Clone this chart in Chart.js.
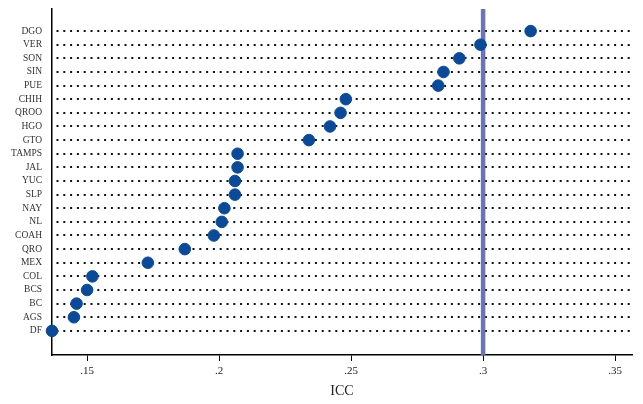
<!DOCTYPE html>
<html>
<head>
<meta charset="utf-8">
<script src="https://cdn.jsdelivr.net/npm/chart.js@4"></script>
<style>
  html, body { margin: 0; padding: 0; background: #fff; }
  #wrap { width: 643px; height: 404px; }
</style>
</head>
<body>
<div id="wrap"><canvas id="myChart"></canvas></div>
<script>
// states, top to bottom
var states = ["DGO", "VER", "SON", "SIN", "PUE", "CHIH", "QROO", "HGO", "GTO", "TAMPS", "JAL", "YUC",
              "SLP", "NAY", "NL", "COAH", "QRO", "MEX", "COL", "BCS", "BC", "AGS", "DF"];
// ICC per state
var icc = [0.318, 0.299, 0.291, 0.285, 0.283, 0.248, 0.246, 0.242, 0.234, 0.207, 0.207, 0.206,
           0.206, 0.202, 0.201, 0.198, 0.187, 0.173, 0.152, 0.150, 0.146, 0.145, 0.1367];
var xTicks = [0.15, 0.2, 0.25, 0.3, 0.35];
var refLine = 0.3;

var xMin = 0.1367, xMax = 0.3564;
var yMin = -1.62, yMax = 23.77;

var serif = "'Liberation Serif', 'DejaVu Serif', serif";

var points = [];
for (let i = 0; i < states.length; i++) {
    points.push({ x: icc[i], y: i });
}

new Chart("myChart", {
    type: "scatter",
    data: {
        datasets: [{
            data: points,
            backgroundColor: "#0b4a98",
            borderColor: "#0b4a98",
            pointRadius: 5.8,
            pointHoverRadius: 5.8,
            clip: false,
            order: 1
        }, {
            type: "line",
            data: [{ x: refLine, y: yMin }, { x: refLine, y: yMax }],
            borderColor: "#6c74b8",
            borderWidth: 4.5,
            pointRadius: 0,
            order: 2
        }]
    },
    options: {
        responsive: true,
        maintainAspectRatio: false,
        animation: false,
        layout: { padding: { top: 9, right: 11, bottom: 0, left: 0 } },
        plugins: {
            legend: { display: false },
            tooltip: { enabled: false }
        },
        scales: {
            x: {
                type: "linear",
                min: xMin,
                max: xMax,
                afterBuildTicks: function (scale) {
                    scale.ticks = xTicks.map(v => ({ value: v }));
                },
                afterFit: function (scale) { scale.height = 49; },
                grid: { drawOnChartArea: false, drawTicks: true, tickLength: 6, color: "#000" },
                border: { color: "#000", width: 1.5 },
                ticks: {
                    padding: 4,
                    color: "#222",
                    font: { family: serif, size: 11 },
                    callback: function (v) { return String(+v.toFixed(2)).replace(/^0/, ""); }
                },
                title: {
                    display: true,
                    text: "ICC",
                    color: "#222",
                    font: { family: serif, size: 14 }
                }
            },
            y: {
                type: "linear",
                reverse: true,
                min: yMin,
                max: yMax,
                afterBuildTicks: function (scale) {
                    scale.ticks = states.map((s, i) => ({ value: i }));
                },
                afterFit: function (scale) {
                    scale.width = 52;
                    scale.paddingTop = 0;
                    scale.paddingBottom = 0;
                },
                grid: { drawTicks: false, color: "#111", lineWidth: 2 },
                border: { color: "#000", width: 1.5, dash: [2, 4.8], dashOffset: -4 },
                ticks: {
                    padding: 10,
                    color: "#333",
                    font: { family: serif, size: 9.5 },
                    callback: function (v) { return states[v]; }
                }
            }
        }
    }
});
</script>
</body>
</html>
